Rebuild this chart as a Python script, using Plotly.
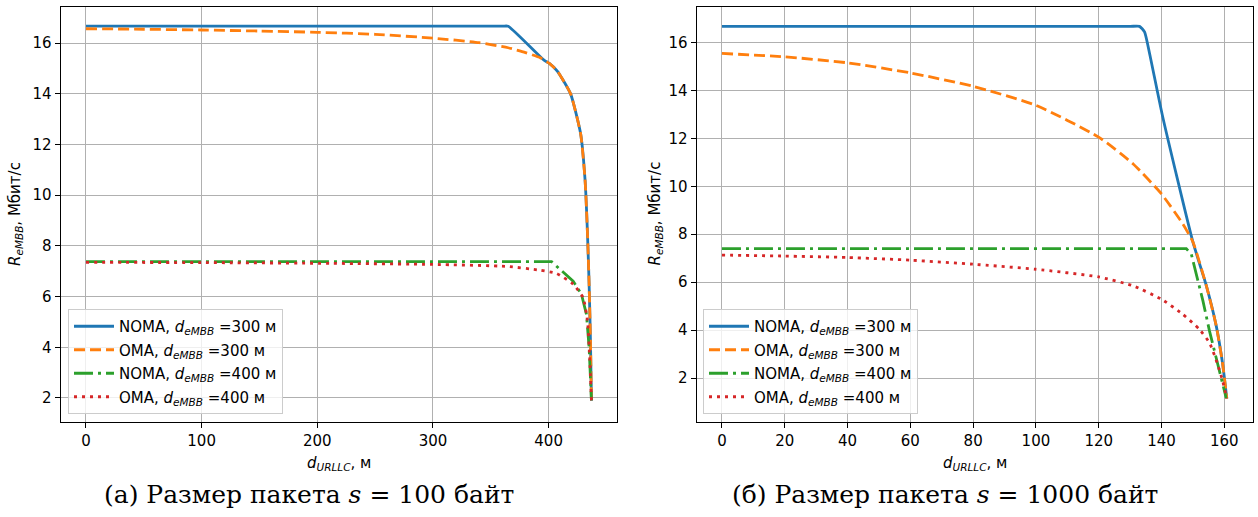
import plotly.graph_objects as go

W, H = 1258, 517

# ---- s = 100 bytes ----
xa_noma300 = [0, 360, 365, 396, 400.6, 407.5, 419, 427.7, 431.5, 433.5, 435, 436.2, 437]
ya_noma300 = [16.67, 16.67, 16.67, 15.33, 15.2, 14.9, 14.0, 12.42, 10.6, 8.6, 6.5, 4.2, 1.9]
xa_oma300 = [0, 50, 100, 150, 200, 250, 300, 340, 365, 380, 393, 400.6, 407.5, 419, 427.7, 431.5, 433.5, 435, 436.2, 437]
ya_oma300 = [16.57, 16.55, 16.52, 16.48, 16.43, 16.35, 16.2, 16.02, 15.82, 15.63, 15.42, 15.2, 14.9, 14.0, 12.42, 10.6, 8.6, 6.5, 4.2, 1.9]
xa_noma400 = [0, 402.5, 409.7, 421.2, 428.4, 432.7, 435, 437]
ya_noma400 = [7.38, 7.38, 7.08, 6.61, 6.09, 5.30, 3.99, 1.9]
xa_oma400 = [0, 100, 213, 300, 364, 392.6, 407, 421.2, 429.8, 433.6, 435.6, 437]
ya_oma400 = [7.35, 7.34, 7.31, 7.27, 7.19, 7.04, 6.91, 6.49, 5.96, 5.04, 3.47, 1.9]

# ---- s = 1000 bytes ----
xb_noma300 = [0, 130, 133, 134.6, 136.2, 140.4, 150, 154.3, 157.4, 159.5, 160.8]
yb_noma300 = [16.67, 16.67, 16.67, 16.44, 15.54, 12.89, 7.68, 5.85, 4.2, 2.57, 1.15]
xb_oma300 = [0, 20, 40, 60, 80, 100, 120, 130.9, 140, 146.8, 150, 154.3, 157.4, 159.5, 160.8]
yb_oma300 = [15.54, 15.40, 15.15, 14.73, 14.17, 13.38, 12.05, 10.94, 9.68, 8.43, 7.68, 5.85, 4.2, 2.57, 1.15]
xb_noma400 = [0, 147.9, 149.5, 151.1, 153.2, 155.3, 156.9, 159, 160.6]
yb_noma400 = [7.40, 7.40, 7.17, 6.33, 5.22, 3.96, 3.13, 2.0, 1.17]
xb_oma400 = [0, 20, 40, 60, 80, 100, 120, 130.9, 140, 146.8, 152.1, 155.3, 157.9, 159.5, 160.8]
yb_oma400 = [7.13, 7.09, 7.03, 6.92, 6.75, 6.54, 6.22, 5.85, 5.29, 4.66, 4.03, 3.47, 2.57, 1.87, 1.15]

labels = [
    "NOMA, <i>d</i><sub><i>eMBB</i></sub> =300 м",
    "OMA, <i>d</i><sub><i>eMBB</i></sub> =300 м",
    "NOMA, <i>d</i><sub><i>eMBB</i></sub> =400 м",
    "OMA, <i>d</i><sub><i>eMBB</i></sub> =400 м",
]
colors = ["#1f77b4", "#ff7f0e", "#2ca02c", "#d62728"]
dashes = ["solid", "11px,5px", "19px,5px,3px,5px", "3px,5px"]
shapes_ = ["spline", "spline", "linear", "spline"]

subtitles = ["(a) Размер пакета <i>s</i> = 100 байт", "(б) Размер пакета <i>s</i> = 1000 байт"]
x_title = "<i>d</i><sub><i>URLLC</i></sub>, м"
y_title = "<i>R</i><sub><i>eMBB</i></sub>, Мбит/с"

SANS = "DejaVu Sans"
FS = 15

fig = go.Figure()

panels = [
    ([xa_noma300, xa_oma300, xa_noma400, xa_oma400],
     [ya_noma300, ya_oma300, ya_noma400, ya_oma400], "x", "y", "legend"),
    ([xb_noma300, xb_oma300, xb_noma400, xb_oma400],
     [yb_noma300, yb_oma300, yb_noma400, yb_oma400], "x2", "y2", "legend2"),
]
for xs, ys, xr, yr, lg in panels:
    for i in range(4):
        fig.add_trace(go.Scatter(
            x=xs[i], y=ys[i], mode="lines", name=labels[i],
            line=dict(color=colors[i], width=2.8, dash=dashes[i],
                      shape=shapes_[i], smoothing=0.5),
            xaxis=xr, yaxis=yr, legend=lg, legendgroup=f"{lg}{i}",
        ))

def px_x(p):
    return p / W

def px_y(p):
    return 1 - p / H

ax_common = dict(
    showline=True, mirror=True, linecolor="black", linewidth=1.2,
    ticks="outside", ticklen=5, tickwidth=1.2, tickcolor="black",
    showgrid=True, gridcolor="#b0b0b0", gridwidth=1.1, zeroline=False,
    tickfont=dict(family=SANS, size=FS, color="black"),
)

ydom = [px_y(421.5), px_y(6.7)]
fig.update_layout(
    width=W, height=H,
    margin=dict(l=0, r=0, t=0, b=0),
    paper_bgcolor="white", plot_bgcolor="white",
    xaxis=dict(domain=[px_x(60.7), px_x(616.7)], range=[-21.85, 458.85],
               tick0=0, dtick=100, anchor="y", **ax_common),
    yaxis=dict(domain=ydom, range=[1.07, 17.44], tick0=0, dtick=2,
               anchor="x", **ax_common),
    xaxis2=dict(domain=[px_x(696.7), px_x(1252.7)], range=[-8.05, 169.05],
                tick0=0, dtick=20, anchor="y2", **ax_common),
    yaxis2=dict(domain=ydom, range=[0.19, 17.49], tick0=0, dtick=2,
                anchor="x2", **ax_common),
    showlegend=True,
)

leg_common = dict(
    xanchor="left", yanchor="bottom",
    bgcolor="rgba(255,255,255,0.8)", bordercolor="#cccccc", borderwidth=1,
    font=dict(family=SANS, size=FS, color="black"),
    tracegroupgap=1, itemwidth=40,
)
fig.update_layout(
    legend=dict(x=px_x(68), y=px_y(414), **leg_common),
    legend2=dict(x=px_x(703), y=px_y(414), **leg_common),
)

ann = []
for cx, ylab_x in [((60.7 + 616.7) / 2, 15), ((696.7 + 1252.7) / 2, 654.5)]:
    ann.append(dict(x=px_x(cx), y=px_y(463), xref="paper", yref="paper",
                    text=x_title, showarrow=False, xanchor="center", yanchor="middle",
                    font=dict(family=SANS, size=FS, color="black")))
    ann.append(dict(x=px_x(ylab_x), y=px_y(214), xref="paper", yref="paper",
                    text=y_title, showarrow=False, textangle=-90,
                    xanchor="center", yanchor="middle",
                    font=dict(family=SANS, size=FS, color="black")))
for cx, txt in zip([308.5, 945], subtitles):
    ann.append(dict(x=px_x(cx), y=px_y(494), xref="paper", yref="paper",
                    text=txt, showarrow=False, xanchor="center", yanchor="middle",
                    font=dict(family="DejaVu Serif", size=25, color="black")))
fig.update_layout(annotations=ann)

fig.write_html("out.html")
